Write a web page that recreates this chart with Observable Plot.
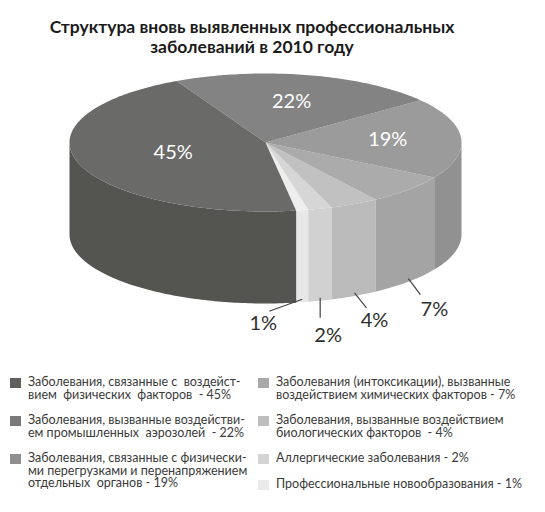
<!DOCTYPE html>
<html>
<head>
<meta charset="utf-8">
<script src="https://cdn.jsdelivr.net/npm/d3@7"></script>
<script src="https://cdn.jsdelivr.net/npm/@observablehq/plot@0.6"></script>
<style>
  body { margin: 0; background: #fff; font-family: Lato, sans-serif; }
  #title { width: 504px; text-align: center; font: bold 17.5px/20px Lato, sans-serif; color: #1b1b1b; padding-top: 17px; height: 43px; }
  #chart svg { display: block; }
  #legend { position: relative; height: 152px; }
  .col { position: absolute; top: 16px; }
  .item { display: flex; margin-bottom: 13px; }
  .sw { width: 11px; height: 10px; margin-top: 2px; margin-right: 7px; flex: none; }
  .txt { font-size: 12.5px; line-height: 12.5px; color: #3a3a3a; white-space: pre; }
</style>
</head>
<body>
<div id="title">Структура вновь выявленных профессиональных<br>заболеваний в 2010 году</div>
<div id="chart"></div>
<div id="legend"></div>
<script>
// доли, %
const shares = [45, 22, 19, 7, 4, 2, 1]
const shareLabels = ['45%', '22%', '19%', '7%', '4%', '2%', '1%']
const legendText = [
  'Заболевания, связанные с  воздейст-\nвием  физических  факторов  - 45%',
  'Заболевания, вызванные воздействи-\nем промышленных  аэрозолей  - 22%',
  'Заболевания, связанные с физически-\nми перегрузками и перенапряжением\nотдельных  органов - 19%',
  'Заболевания (интоксикации), вызванные\nвоздействием химических факторов - 7%',
  'Заболевания, вызванные воздействием\nбиологических факторов  - 4%',
  'Аллергические заболевания - 2%',
  'Профессиональные новообразования - 1%'
]
const topColors = ['#6a6a68', '#838383', '#9b9b9b', '#ababab', '#c1c1c1', '#d6d6d6', '#eeeeee']
const sideColors = ['#545451', '#737373', '#919191', '#a4a4a4', '#bababa', '#d1d1d1', '#e7e7e7']
const legendColors = ['#5e5e5c', '#7a7a7a', '#8f8f8f', '#a8a8a8', '#bdbdbd', '#d4d4d4', '#eaeaea']

// геометрия "объёмного" круга
const W = 545, H = 300
const cx = 265, cy = 82, rx = 196, ry = 69, depth = 92
const rad = Math.PI / 180
const start = 81 * rad // граница 45% / 1% спереди
const total = d3.sum(shares)

// слайсы идут от передней границы против часовой (на экране)
let a = start
const slices = []
for (let i = shares.length - 1; i >= 0; i--) {
  const a1 = a, a0 = a - shares[i] / total * 2 * Math.PI
  slices.push({i, a0, a1})
  a = a0
}

const arc = (t0, t1, dy = 0) => {
  const n = Math.max(2, Math.ceil(Math.abs(t1 - t0) / rad))
  return d3.range(n + 1).map(k => {
    const t = t0 + (t1 - t0) * k / n
    return [cx + rx * Math.cos(t), cy + ry * Math.sin(t) + dy]
  })
}

const tops = [], sides = []
slices.forEach(s => {
  const pts = [[cx, cy], ...arc(s.a1, s.a0)]
  pts.forEach(([x, y]) => tops.push({k: 'top' + s.i, x, y, fill: topColors[s.i]}))
  // видимая боковая часть: синус > 0
  for (const off of [-2 * Math.PI, 0, 2 * Math.PI]) {
    const lo = Math.max(s.a0, off), hi = Math.min(s.a1, off + Math.PI)
    if (hi > lo) {
      const poly = [...arc(hi, lo), ...arc(lo, hi, depth)]
      poly.forEach(([x, y]) => sides.push({k: 'side' + s.i + off, x, y, fill: sideColors[s.i]}))
    }
  }
})

// подписи внутри больших секторов
const inner = slices.filter(s => shares[s.i] >= 10).map(s => {
  const m = (s.a0 + s.a1) / 2, r = 0.72 - shares[s.i] / 100 * 0.5
  return {x: cx + rx * r * Math.cos(m), y: cy + ry * r * Math.sin(m), text: shareLabels[s.i]}
})

// выноски для малых секторов
const nudge = {3: [12, 16, 14, 15], 4: [12, 15, 8, 13], 5: [0, 20, 8, 18], 6: [-33, 12, -6, 12]}
const leaders = slices.filter(s => shares[s.i] < 10).map(s => {
  const m = (s.a0 + s.a1) / 2
  const x1 = cx + rx * Math.cos(m), y1 = cy + ry * Math.sin(m) + depth - 3
  const [dx, dy, tx, ty] = nudge[s.i]
  return {x1, y1, x2: x1 + dx, y2: y1 + dy, tx: x1 + dx + tx, ty: y1 + dy + ty, text: shareLabels[s.i]}
})

const chart = Plot.plot({
  width: W,
  height: H,
  margin: 0,
  x: {domain: [0, W], range: [0, W], axis: null},
  y: {domain: [0, H], range: [0, H], axis: null},
  color: {type: 'identity'},
  style: {fontFamily: 'Lato, sans-serif', background: 'transparent'},
  marks: [
    Plot.line(sides, {x: 'x', y: 'y', z: 'k', fill: 'fill', stroke: null}),
    Plot.line(tops, {x: 'x', y: 'y', z: 'k', fill: 'fill', stroke: null}),
    Plot.text(inner, {x: 'x', y: 'y', text: 'text', fill: 'white', fontSize: 20}),
    Plot.link(leaders, {x1: 'x1', y1: 'y1', x2: 'x2', y2: 'y2', stroke: '#444', strokeWidth: 1.2}),
    Plot.text(leaders, {x: 'tx', y: 'ty', text: 'text', fill: '#2e2e2e', fontSize: 20})
  ]
})
d3.select('#chart').append(() => chart)

// легенда в две колонки
const legend = d3.select('#legend')
const cols = [[0, 1, 2], [3, 4, 5, 6]]
cols.forEach((idx, c) => {
  const col = legend.append('div').attr('class', 'col').style('left', c ? '258px' : '10px')
  idx.forEach(i => {
    const it = col.append('div').attr('class', 'item')
    it.append('div').attr('class', 'sw').style('background', legendColors[i])
    it.append('div').attr('class', 'txt').text(legendText[i])
  })
})
</script>
</body>
</html>
